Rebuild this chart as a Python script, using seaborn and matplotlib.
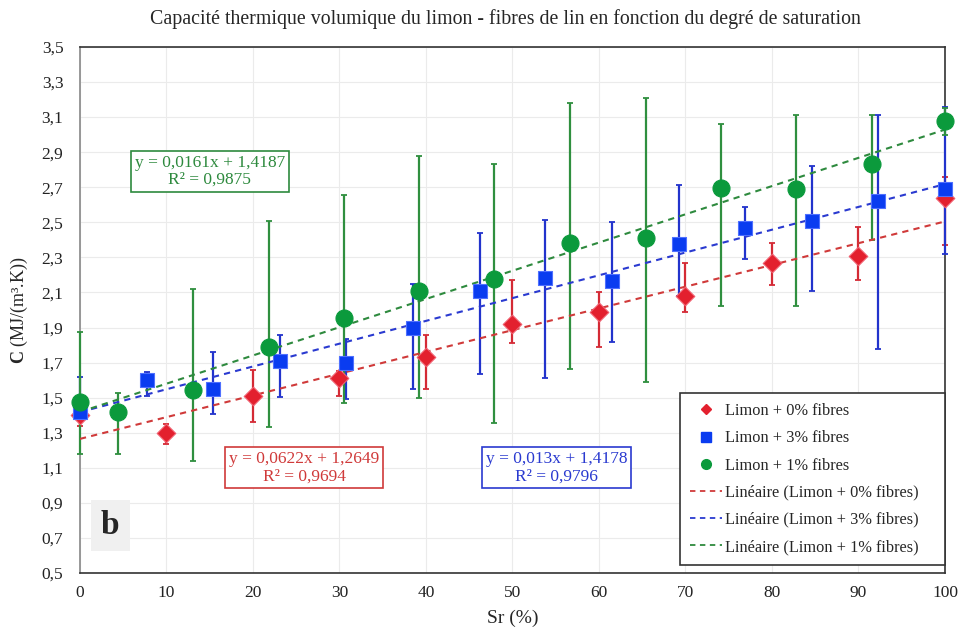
import numpy as np
import pandas as pd
import matplotlib
matplotlib.use("Agg")
import matplotlib.pyplot as plt
from matplotlib.lines import Line2D
import seaborn as sns

# ---------------- data ----------------
x_red = [0, 10, 20, 30, 40, 50, 60, 70, 80, 90, 100]
y_red = [1.40, 1.30, 1.51, 1.61, 1.73, 1.92, 1.99, 2.08, 2.27, 2.31, 2.64]
lo_red = [1.34, 1.235, 1.36, 1.51, 1.55, 1.81, 1.79, 1.99, 2.14, 2.17, 2.37]
hi_red = [1.44, 1.35, 1.66, 1.65, 1.86, 2.17, 2.10, 2.27, 2.38, 2.475, 2.76]

x_blue = [0, 7.7, 15.4, 23.1, 30.8, 38.5, 46.2, 53.8, 61.5, 69.2, 76.9, 84.6, 92.3, 100]
y_blue = [1.42, 1.60, 1.55, 1.71, 1.70, 1.90, 2.11, 2.18, 2.165, 2.375, 2.465, 2.505, 2.62, 2.69]
lo_blue = [1.38, 1.51, 1.405, 1.505, 1.495, 1.55, 1.635, 1.61, 1.815, 2.08, 2.29, 2.11, 1.78, 2.32]
hi_blue = [1.62, 1.645, 1.76, 1.86, 1.835, 2.15, 2.44, 2.515, 2.50, 2.71, 2.585, 2.82, 3.11, 3.16]

x_green = [0, 4.4, 13.1, 21.8, 30.5, 39.2, 47.9, 56.6, 65.4, 74.1, 82.8, 91.6, 100]
y_green = [1.475, 1.42, 1.545, 1.79, 1.955, 2.11, 2.175, 2.38, 2.41, 2.695, 2.69, 2.83, 3.08]
lo_green = [1.18, 1.18, 1.14, 1.335, 1.47, 1.50, 1.355, 1.665, 1.59, 2.02, 2.025, 2.40, 3.00]
hi_green = [1.875, 1.525, 2.12, 2.51, 2.655, 2.88, 2.83, 3.18, 3.21, 3.06, 3.11, 3.11, 3.15]

series_labels = ["Limon + 0% fibres", "Limon + 3% fibres", "Limon + 1% fibres"]
trend_slopes = [0.0124, 0.013, 0.0161]
trend_intercepts = [1.2649, 1.4178, 1.4187]
eq_texts = ["y = 0,0622x + 1,2649\nR² = 0,9694",
            "y = 0,013x + 1,4178\nR² = 0,9796",
            "y = 0,0161x + 1,4187\nR² = 0,9875"]

x_ticks = list(range(0, 101, 10))
y_ticks = [0.5, 0.7, 0.9, 1.1, 1.3, 1.5, 1.7, 1.9, 2.1, 2.3, 2.5, 2.7, 2.9, 3.1, 3.3, 3.5]

# ---------------- style ----------------
sns.set_style("whitegrid", {"grid.color": "#ebebeb", "axes.edgecolor": "#333333"})
plt.rcParams['font.family'] = ['Liberation Serif', 'DejaVu Serif']
plt.rcParams['mathtext.fontset'] = 'custom'
plt.rcParams['mathtext.rm'] = 'Liberation Serif'
plt.rcParams['mathtext.bf'] = 'Liberation Serif:bold'

mk_colors = ["#e3202e", "#0a3cf0", "#0b9a3c"]
mk_edges = ["#f06070", "#4f70ff", "#0b9a3c"]
bar_colors = ["#d42a35", "#2233cc", "#2f8f3f"]
line_colors = ["#d03a3a", "#2a3ad0", "#2e8a3e"]
markers = ["D", "s", "o"]
sizes = [90, 110, 150]

fig = plt.figure(figsize=(9.59, 6.33), dpi=100)
ax = fig.add_axes([0.0834, 0.0948, 0.902, 0.831])

xs = [x_red, x_blue, x_green]
ys = [y_red, y_blue, y_green]
los = [lo_red, lo_blue, lo_green]
his = [hi_red, hi_blue, hi_green]

# trend lines
xt = np.array([0, 100])
for i in range(3):
    df_t = pd.DataFrame({"x": xt, "y": trend_slopes[i] * xt + trend_intercepts[i]})
    sns.lineplot(data=df_t, x="x", y="y", ax=ax, color=line_colors[i],
                 linestyle=(0, (3, 2.5)), linewidth=1.5, zorder=4)

# error bars
for i in range(3):
    y = np.array(ys[i]); lo = np.array(los[i]); hi = np.array(his[i])
    eb = ax.errorbar(xs[i], y, yerr=[y - lo, hi - y], fmt='none', ecolor=bar_colors[i],
                     elinewidth=1.6, capsize=2.5, capthick=1.3, zorder=3)
    for art in eb.lines[1] + eb.lines[2]:
        art.set_clip_on(False)

# markers
for i in range(3):
    df_m = pd.DataFrame({"x": xs[i], "y": ys[i]})
    sns.scatterplot(data=df_m, x="x", y="y", ax=ax, marker=markers[i], s=sizes[i],
                    color=mk_colors[i], edgecolor=mk_edges[i], linewidth=0.8,
                    zorder=5 + i, legend=False, clip_on=False)

ax.set_xlim(0, 100)
ax.set_ylim(0.5, 3.5)
ax.set_xticks(x_ticks)
ax.set_yticks(y_ticks)
ax.set_xticklabels([str(t) for t in x_ticks])
ax.set_yticklabels([f"{t:.1f}".replace(".", ",") for t in y_ticks])
ax.tick_params(axis='both', length=0, labelsize=12.5, colors="#222222")
ax.tick_params(axis='y', pad=12)
ax.tick_params(axis='x', pad=9)
for s in ["top", "right", "bottom"]:
    ax.spines[s].set_color("#333333")
    ax.spines[s].set_linewidth(1.2)
ax.spines["left"].set_color("#888888")
ax.spines["left"].set_linewidth(1.2)

ax.set_xlabel("Sr (%)", fontsize=14, labelpad=6)
ax.set_ylabel(r"$\mathbf{C}$ (MJ/(m³.K))", fontsize=13, labelpad=8)
fig.suptitle("Capacité thermique volumique du limon - fibres de lin en fonction du degré de saturation",
             fontsize=14.3, x=0.527, y=0.985, va="top")

# equation boxes
eq_pos = [(25.9, 1.10), (55.1, 1.10), (15.0, 2.79)]
for i in range(3):
    ax.text(eq_pos[i][0], eq_pos[i][1], eq_texts[i], color=line_colors[i], fontsize=12.5,
            ha="center", va="center", linespacing=1.1, zorder=10,
            bbox=dict(boxstyle="square,pad=0.22", fc="white", ec=line_colors[i], lw=1.2))

# panel label
ax.text(3.5, 0.77, "b", fontsize=24, fontweight="bold", ha="center", va="center", zorder=10,
        bbox=dict(boxstyle="square,pad=0.3", fc="#f0f0f0", ec="none"))

# legend
handles = []
for i in range(3):
    handles.append(Line2D([], [], linestyle="none", marker=markers[i], color=mk_colors[i],
                          markersize=[5.5, 7, 7][i]))
for i in range(3):
    handles.append(Line2D([], [], linestyle=(0, (3, 2.5)), color=line_colors[i], linewidth=1.3))
labels = series_labels + [f"Linéaire ({s})" for s in series_labels]
leg = ax.legend(handles=handles, labels=labels, loc="lower left",
                bbox_to_anchor=(0.694, 0.015, 0.306, 0.32), mode="expand",
                borderaxespad=0, fontsize=11.8, frameon=True, fancybox=False, edgecolor="#333333",
                framealpha=1, labelspacing=0.68, handlelength=1.9, handletextpad=0.2,
                borderpad=0.62)
leg.get_frame().set_linewidth(1.2)
leg.set_zorder(12)

fig.savefig("out.png", dpi=100)
